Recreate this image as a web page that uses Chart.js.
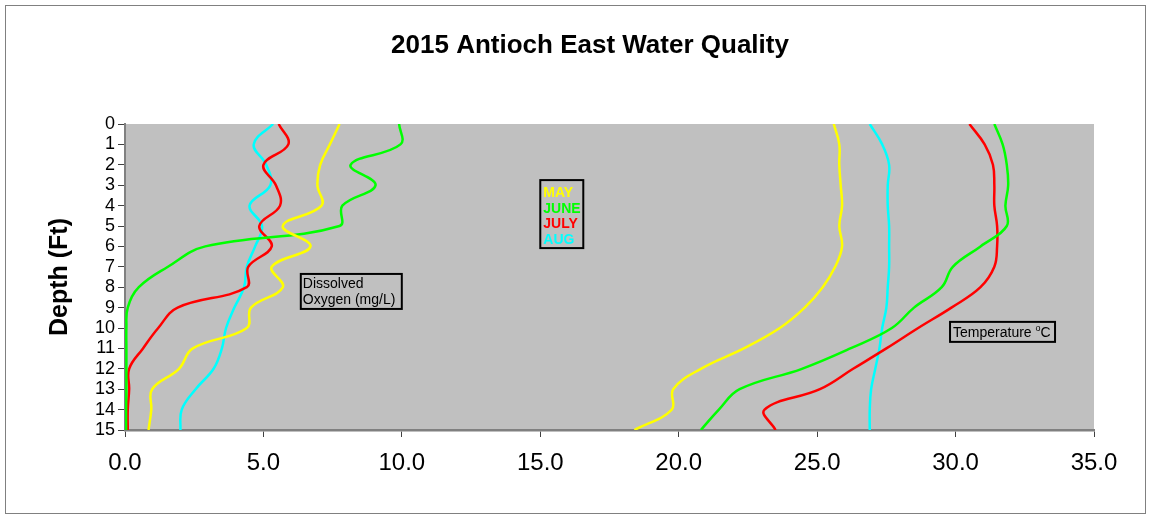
<!DOCTYPE html>
<html>
<head>
<meta charset="utf-8">
<script src="https://cdn.jsdelivr.net/npm/chart.js@4/dist/chart.umd.min.js"></script>
<style>
  html, body { margin: 0; padding: 0; background: #fff; }
  #wrap { width: 1151px; height: 519px; }
</style>
</head>
<body>
<div id="wrap"><canvas id="wq"></canvas></div>
<script>
// depth in feet (0 at the surface)
const depths = [0, 1, 2, 3, 4, 5, 6, 7, 8, 9, 10, 11, 12, 13, 14, 15];

// dissolved oxygen (mg/L)
const doMay  = [7.75, 7.4, 7.05, 6.95, 7.1, 5.7, 6.7, 5.3, 5.7, 4.55, 4.4, 2.45, 1.95, 0.98, 0.95, 0.85];
const doJune = [9.9, 9.95, 8.15, 9.05, 7.85, 7.75, 2.9, 1.55, 0.5, 0.1, 0.05, 0.05, 0.05, 0.05, 0.04, 0.04];
const doJuly = [5.55, 5.9, 5.0, 5.45, 5.6, 4.85, 5.3, 4.45, 4.4, 1.9, 1.2, 0.65, 0.15, 0.15, 0.1, 0.1];
const doAug  = [5.35, 4.65, 5.1, 5.25, 4.5, 4.95, 4.7, 4.4, 4.3, 3.95, 3.65, 3.5, 3.2, 2.55, 2.05, 2.0];

// temperature (deg C)
const tMay  = [25.6, 25.8, 25.8, 25.85, 25.9, 25.8, 25.9, 25.65, 25.2, 24.55, 23.65, 22.35, 20.8, 19.8, 19.75, 18.4];
const tJune = [31.4, 31.7, 31.85, 31.9, 31.8, 31.85, 30.9, 29.9, 29.5, 28.5, 27.7, 26.2, 24.45, 22.2, 21.45, 20.8];
const tJuly = [30.5, 31.05, 31.35, 31.4, 31.4, 31.5, 31.5, 31.4, 30.9, 29.85, 28.65, 27.5, 26.3, 25.1, 23.1, 23.5];
const tAug  = [26.9, 27.35, 27.6, 27.55, 27.55, 27.6, 27.6, 27.6, 27.55, 27.5, 27.35, 27.25, 27.1, 26.95, 26.9, 26.9];

const months = ['MAY', 'JUNE', 'JULY', 'AUG'];
const colors = ['#FFFF00', '#00FF00', '#FF0000', '#00FFFF'];
const xTicks = [0, 5, 10, 15, 20, 25, 30, 35];

const doSeries = [doMay, doJune, doJuly, doAug];
const tSeries = [tMay, tJune, tJuly, tAug];

const FONT = 'Arial, "Liberation Sans", sans-serif';
const pts = vals => vals.map((v, i) => ({ x: v, y: depths[i] }));

const datasets = [];
months.forEach((m, i) => {
  datasets.push({ label: m + ' DO', data: pts(doSeries[i]), borderColor: colors[i] });
  datasets.push({ label: m + ' Temp', data: pts(tSeries[i]), borderColor: colors[i] });
});
datasets.forEach(d => {
  d.showLine = true;
  d.borderWidth = 2.5;
  d.pointRadius = 0;
  d.tension = 0.4;
  d.fill = false;
});

// background, frame, title and the three text boxes
const decor = {
  id: 'decor',
  beforeDraw(chart) {
    const { ctx, chartArea: a } = chart;
    ctx.save();
    ctx.fillStyle = '#fff';
    ctx.fillRect(0, 0, chart.width, chart.height);
    ctx.strokeStyle = '#808080';
    ctx.lineWidth = 1;
    ctx.strokeRect(5.5, 5.5, chart.width - 11, chart.height - 11);
    ctx.fillStyle = '#C0C0C0';
    ctx.fillRect(a.left, a.top, a.right - a.left, a.bottom - a.top);

    ctx.fillStyle = '#000';
    ctx.font = 'bold 26px ' + FONT;
    ctx.textAlign = 'center';
    ctx.textBaseline = 'middle';
    ctx.fillText('2015 Antioch East Water Quality', 590, 46);
    ctx.restore();
  },
  afterDatasetsDraw(chart) {
    const { ctx, scales: { x, y } } = chart;
    ctx.save();
    ctx.strokeStyle = '#000';
    ctx.lineWidth = 2;
    ctx.textBaseline = 'middle';

    // month key
    let bx = x.getPixelForValue(15.0), by = y.getPixelForValue(2.75);
    ctx.strokeRect(bx, by, 43, 68);
    ctx.font = 'bold 14px ' + FONT;
    months.forEach((m, i) => {
      ctx.fillStyle = colors[i];
      ctx.fillText(m, bx + 3, by + 13 + i * 15.6);
    });

    // dissolved oxygen label
    bx = x.getPixelForValue(6.35); by = y.getPixelForValue(7.35);
    ctx.strokeRect(bx, by, 101, 35);
    ctx.fillStyle = '#000';
    ctx.font = '14px ' + FONT;
    ctx.fillText('Dissolved', bx + 2, by + 10);
    ctx.fillText('Oxygen (mg/L)', bx + 2, by + 26);

    // temperature label
    bx = x.getPixelForValue(29.8); by = y.getPixelForValue(9.7);
    ctx.strokeRect(bx, by, 105, 20);
    ctx.fillText('Temperature ', bx + 3, by + 11);
    let w = ctx.measureText('Temperature ').width;
    ctx.font = '9px ' + FONT;
    ctx.fillText('o', bx + 3 + w, by + 7);
    w += ctx.measureText('o').width;
    ctx.font = '14px ' + FONT;
    ctx.fillText('C', bx + 3 + w, by + 11);
    ctx.restore();
  }
};

Chart.defaults.color = '#000';
Chart.defaults.font.family = FONT;

new Chart(document.getElementById('wq'), {
  type: 'scatter',
  data: { datasets },
  plugins: [decor],
  options: {
    responsive: true,
    maintainAspectRatio: false,
    animation: false,
    layout: { padding: { left: 0, right: 57, top: 124, bottom: 0 } },
    plugins: {
      legend: { display: false },
      tooltip: { enabled: false },
      title: { display: false }
    },
    scales: {
      x: {
        type: 'linear',
        min: 0,
        max: 35,
        afterBuildTicks: s => { s.ticks = xTicks.map(v => ({ value: v })); },
        afterFit: s => { s.height = 89; },
        border: { color: '#808080', width: 2.5 },
        grid: { drawOnChartArea: false, drawTicks: true, tickLength: 7, color: '#404040' },
        ticks: {
          callback: v => Number(v).toFixed(1),
          font: { size: 24 },
          padding: 12,
          maxRotation: 0
        }
      },
      y: {
        type: 'linear',
        reverse: true,
        min: 0,
        max: 15,
        afterBuildTicks: s => { s.ticks = depths.map(v => ({ value: v })); },
        afterFit: s => { s.width = 125; },
        border: { color: '#808080', width: 2 },
        grid: { drawOnChartArea: false, drawTicks: true, tickLength: 7, color: '#404040' },
        ticks: { font: { size: 18 }, padding: 3, autoSkip: false },
        title: {
          display: true,
          text: 'Depth (Ft)',
          font: { size: 25, weight: 'bold' },
          padding: { top: 45, bottom: 0 }
        }
      }
    }
  }
});
</script>
</body>
</html>
